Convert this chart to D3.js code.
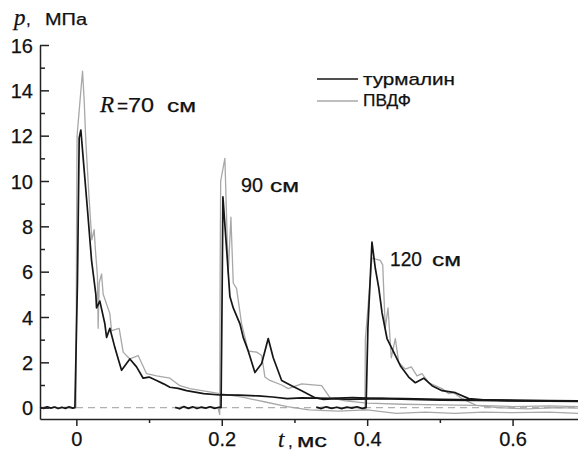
<!DOCTYPE html>
<html>
<head>
<meta charset="utf-8">
<script src="https://cdn.jsdelivr.net/npm/d3@7"></script>
<style>
  body { margin: 0; background: #fff; }
  text { font-family: "Liberation Sans", Arial, sans-serif; fill: #111; stroke: #111; stroke-width: 0.25; }
  .serif { font-family: "Liberation Serif", "DejaVu Serif", serif; font-style: italic; }
</style>
</head>
<body>
<script>
const width = 578, height = 452;

// pressure traces, [t (ms), p (MPa)]
const tourmaline70 = [
  [-0.05, 0.02], [-0.045, -0.03], [-0.04, 0.04], [-0.035, -0.02], [-0.03, 0.03], [-0.025, -0.04],
  [-0.02, 0.02], [-0.015, -0.03], [-0.01, 0.04], [-0.005, -0.02], [-0.002, 0.0],
  [0.0015, 5.5], [0.0039, 11.9], [0.0062, 12.25], [0.0107, 10.5], [0.0154, 8.7], [0.0209, 6.5],
  [0.0268, 5.0], [0.0278, 4.4], [0.0323, 4.7], [0.0392, 3.7], [0.0416, 3.1], [0.0461, 3.5],
  [0.053, 2.65], [0.058, 2.1], [0.0622, 1.65], [0.068, 1.9], [0.0736, 2.15], [0.0828, 1.8],
  [0.0919, 1.3], [0.1, 1.35], [0.1104, 1.2], [0.12, 1.05], [0.1287, 0.9], [0.14, 0.85],
  [0.1516, 0.75], [0.175, 0.62], [0.1975, 0.56], [0.225, 0.55], [0.25, 0.52], [0.27, 0.47],
  [0.29, 0.4], [0.31, 0.43], [0.35, 0.41], [0.38, 0.44], [0.4, 0.42], [0.45, 0.4],
  [0.5, 0.37], [0.55, 0.35], [0.6, 0.33], [0.65, 0.31], [0.69, 0.3]
];
const tourmaline90 = [
  [0.136, 0.02], [0.142, -0.05], [0.148, 0.05], [0.154, -0.03], [0.16, 0.04], [0.166, -0.04],
  [0.172, 0.03], [0.178, -0.02], [0.184, 0.04], [0.19, -0.03], [0.196, 0.02], [0.199, 0.0],
  [0.2005, 5.0], [0.2016, 9.3], [0.206, 7.3], [0.2112, 4.9], [0.2158, 4.4], [0.225, 3.7],
  [0.2295, 3.1], [0.2364, 2.5], [0.2456, 1.55], [0.2549, 1.95], [0.2639, 3.05], [0.2708, 2.2],
  [0.2824, 1.2], [0.2961, 0.97], [0.3099, 0.75], [0.3282, 0.44], [0.34, 0.36], [0.3557, 0.4],
  [0.375, 0.36], [0.39, 0.38], [0.42, 0.4], [0.46, 0.36], [0.5, 0.33], [0.55, 0.32],
  [0.6, 0.3], [0.65, 0.29], [0.69, 0.28]
];
const tourmaline120 = [
  [0.33, 0.03], [0.337, -0.04], [0.344, 0.04], [0.351, -0.03], [0.358, 0.02], [0.365, -0.04],
  [0.372, 0.03], [0.379, -0.02], [0.386, 0.04], [0.393, -0.03], [0.3985, 0.0],
  [0.401, 3.5], [0.4066, 7.3], [0.4112, 6.15], [0.4159, 5.3], [0.4204, 4.2], [0.4273, 3.05],
  [0.4365, 2.45], [0.4456, 1.85], [0.4571, 1.35], [0.4662, 1.1], [0.4778, 1.3], [0.4892, 0.97],
  [0.503, 0.75], [0.5213, 0.66], [0.5397, 0.4], [0.56, 0.35], [0.6, 0.31], [0.64, 0.3], [0.69, 0.3]
];
const pvdf70 = [
  [-0.05, -0.02], [-0.043, 0.04], [-0.037, -0.02], [-0.03, 0.03], [-0.022, -0.03], [-0.015, 0.02],
  [-0.008, -0.03], [-0.002, 0.01], [-0.0005, 0.0],
  [0.0002, 7.0], [0.001, 12.0], [0.0085, 14.85], [0.0107, 13.6], [0.0131, 11.7], [0.0176, 9.2],
  [0.0213, 7.4], [0.0245, 7.85], [0.0259, 7.1], [0.029, 5.8], [0.030, 3.5], [0.0314, 5.5],
  [0.0347, 5.9], [0.0369, 5.0], [0.0461, 4.15], [0.0484, 3.4], [0.0589, 3.5], [0.0644, 2.45],
  [0.0736, 2.15], [0.085, 2.3], [0.0966, 1.5], [0.1104, 1.4], [0.1287, 1.3], [0.1424, 0.97],
  [0.1562, 0.84], [0.1975, 0.62], [0.23, 0.45], [0.26, 0.25], [0.29, 0.05], [0.32, -0.1],
  [0.36, -0.15], [0.4, -0.1], [0.44, -0.25], [0.48, -0.2], [0.52, -0.25], [0.56, -0.2],
  [0.6, -0.22], [0.65, -0.2], [0.69, -0.25]
];
const pvdf90 = [
  [0.136, -0.03], [0.145, 0.04], [0.155, -0.04], [0.165, 0.03], [0.175, -0.03], [0.185, 0.04],
  [0.195, -0.02], [0.1972, -0.3],
  [0.1978, 6.0], [0.1985, 10.0], [0.2043, 11.0], [0.2089, 5.9], [0.2126, 8.4], [0.2158, 5.5],
  [0.2204, 5.25], [0.2273, 3.7], [0.2364, 2.5], [0.248, 2.45], [0.2549, 2.3], [0.2594, 1.35],
  [0.2663, 1.2], [0.2824, 1.0], [0.2915, 0.84], [0.3099, 1.05], [0.3374, 0.97], [0.3488, 0.44],
  [0.37, 0.3], [0.4, 0.2], [0.45, 0.15], [0.5, 0.12], [0.55, 0.1], [0.6, 0.05], [0.65, 0.08], [0.69, 0.05]
];
const pvdf120 = [
  [0.33, -0.02], [0.34, 0.03], [0.35, -0.03], [0.36, 0.02], [0.37, -0.03], [0.38, 0.03],
  [0.39, -0.02], [0.397, -0.1],
  [0.3975, 3.0], [0.4066, 6.6], [0.418, 6.5], [0.4214, 6.3], [0.4249, 3.5], [0.4287, 4.4],
  [0.4332, 2.2], [0.4387, 3.05], [0.4434, 2.0], [0.4525, 1.7], [0.4607, 1.8], [0.4686, 1.4],
  [0.4754, 1.5], [0.4847, 1.1], [0.503, 0.84], [0.5122, 0.62], [0.519, 0.66], [0.5305, 0.4],
  [0.55, 0.1], [0.58, 0.0], [0.62, -0.05], [0.66, 0.0], [0.69, -0.02]
];

const yTicks = [0, 2, 4, 6, 8, 10, 12, 14, 16];
const yMinorTicks = [1, 3, 5, 7, 9, 11, 13, 15];
const xTicks = [0, 0.2, 0.4, 0.6];
const xMinorTicks = [0.1, 0.3, 0.5];

const distances = ["70", "90", "120"];
const unit = "см";
const seriesNames = ["турмалин", "ПВДФ"];

const x = d3.scaleLinear().domain([-0.05, 0.69]).range([40, 578]);
const y = d3.scaleLinear().domain([-0.5, 16]).range([419, 45]);

const svg = d3.select("body").append("svg")
  .attr("width", width)
  .attr("height", height);

// zero line
svg.append("line")
  .attr("x1", x(-0.05)).attr("x2", x(0.69))
  .attr("y1", y(0)).attr("y2", y(0))
  .attr("stroke", "#b0b0b0")
  .attr("stroke-width", 1.2)
  .attr("stroke-dasharray", "7,5");

const line = d3.line().x(d => x(d[0])).y(d => y(d[1]));

[pvdf70, pvdf90, pvdf120].forEach(s => {
  svg.append("path")
    .attr("d", line(s))
    .attr("fill", "none")
    .attr("stroke", "#a8a8a8")
    .attr("stroke-width", 1.3)
    .attr("stroke-linejoin", "round");
});

[tourmaline70, tourmaline90, tourmaline120].forEach(s => {
  svg.append("path")
    .attr("d", line(s))
    .attr("fill", "none")
    .attr("stroke", "#161616")
    .attr("stroke-width", 1.7)
    .attr("stroke-linejoin", "round");
});

// axes
const yAxis = svg.append("g")
  .attr("transform", `translate(${x(-0.05)},0)`)
  .call(d3.axisLeft(y).tickValues(yTicks).tickSize(-9).tickSizeOuter(0).tickPadding(7));
svg.append("g")
  .attr("transform", `translate(${x(-0.05)},0)`)
  .call(d3.axisLeft(y).tickValues(yMinorTicks).tickSize(-5).tickSizeOuter(0).tickFormat(""))
  .select(".domain").remove();

const xAxis = svg.append("g")
  .attr("transform", `translate(0,${y(-0.5)})`)
  .call(d3.axisBottom(x).tickValues(xTicks).tickSize(7).tickSizeOuter(0).tickPadding(6)
    .tickFormat(d => d === 0 ? "0" : d.toFixed(1)));
svg.append("g")
  .attr("transform", `translate(0,${y(-0.5)})`)
  .call(d3.axisBottom(x).tickValues(xMinorTicks).tickSize(4).tickSizeOuter(0).tickFormat(""))
  .select(".domain").remove();

svg.selectAll(".domain, .tick line")
  .attr("stroke", "#222")
  .attr("stroke-width", 1.5);
svg.selectAll(".tick text")
  .attr("fill", "#111")
  .style("font-family", '"Liberation Sans", Arial, sans-serif')
  .style("font-size", "20px");
yAxis.selectAll(".tick text").attr("dy", "0.36em");
xAxis.selectAll(".tick text").attr("dy", "0.72em");

// axis titles
svg.append("text").attr("class", "serif").attr("x", 14).attr("y", 25)
  .style("font-size", "23px").text("p");
svg.append("text").attr("x", 26).attr("y", 25).style("font-size", "17px").text(",");
svg.append("text").attr("x", 45).attr("y", 25).style("font-size", "16px")
  .attr("textLength", 42).attr("lengthAdjust", "spacingAndGlyphs").text("МПа");

svg.append("text").attr("class", "serif").attr("x", 278).attr("y", 447)
  .style("font-size", "23px").text("t");
svg.append("text").attr("x", 288).attr("y", 447).style("font-size", "17px").text(",");
svg.append("text").attr("x", 297).attr("y", 447).style("font-size", "18px")
  .attr("textLength", 30).attr("lengthAdjust", "spacingAndGlyphs").text("мс");

// distance labels
const labelPos = [[128, 112], [241, 192], [390, 266]];
const numWidth = [26, 22, 32];
const unitGap = [13, 7, 10];
svg.append("text").attr("class", "serif").attr("x", 100).attr("y", 112)
  .style("font-size", "23px").text("R");
svg.append("text").attr("x", 117).attr("y", 112).style("font-size", "19px").text("=");
distances.forEach((d, i) => {
  const [lx, ly] = labelPos[i];
  svg.append("text").attr("x", lx).attr("y", ly).style("font-size", "20px")
    .attr("textLength", numWidth[i]).attr("lengthAdjust", "spacingAndGlyphs").text(d);
  svg.append("text").attr("x", lx + numWidth[i] + unitGap[i]).attr("y", ly).style("font-size", "18px")
    .attr("textLength", 29).attr("lengthAdjust", "spacingAndGlyphs").text(unit);
});

// legend
const legend = svg.append("g");
const legendWidth = [92, 48];
seriesNames.forEach((name, i) => {
  legend.append("line")
    .attr("x1", 317).attr("x2", 358)
    .attr("y1", 79 + i * 22).attr("y2", 79 + i * 22)
    .attr("stroke", i === 0 ? "#161616" : "#a8a8a8")
    .attr("stroke-width", i === 0 ? 1.7 : 1.4);
  legend.append("text")
    .attr("x", 363).attr("y", 85 + i * 21)
    .style("font-size", "17px")
    .attr("textLength", legendWidth[i]).attr("lengthAdjust", "spacingAndGlyphs")
    .text(name);
});
</script>
</body>
</html>
